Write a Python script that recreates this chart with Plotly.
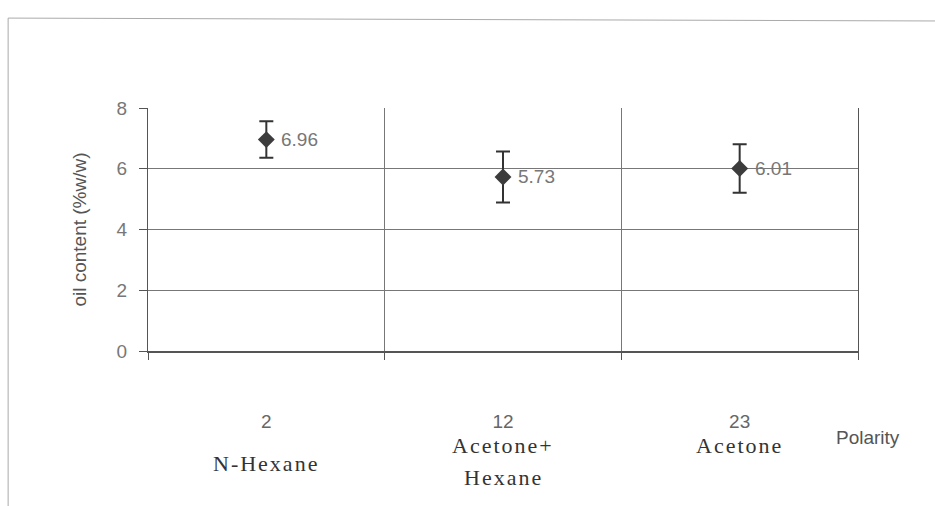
import plotly.graph_objects as go

polarity = ["2", "12", "23"]
solvents = ["N-Hexane", "Acetone+<br>Hexane", "Acetone"]
oil_content = [6.96, 5.73, 6.01]
error = [0.60, 0.84, 0.80]
value_labels = ["6.96", "5.73", "6.01"]

xpos = list(range(len(polarity)))

SANS = "Liberation Sans, Arial"
SERIF = "Liberation Serif, Times New Roman"

fig = go.Figure()
fig.add_trace(go.Scatter(
    x=xpos, y=oil_content, mode="markers",
    marker=dict(symbol="diamond", size=13, color="#3c3c3c"),
    error_y=dict(type="data", array=error, visible=True, color="#333333", thickness=2, width=7),
    showlegend=False, cliponaxis=False,
))
for i, lab in enumerate(value_labels):
    fig.add_annotation(x=xpos[i], y=oil_content[i], xref="x", yref="y", text=lab,
                       showarrow=False, xanchor="left", xshift=13,
                       font=dict(family=SANS, size=19, color="#777777"))

# solvent names under the polarity values (one annotation per text line)
name_y = {0: [-0.461], 1: [-0.387, -0.522], 2: [-0.387]}
for i, name in enumerate(solvents):
    for line, yy in zip(name.split("<br>"), name_y[i]):
        fig.add_annotation(x=xpos[i], y=yy, xref="x", yref="paper",
                           text='<span style="letter-spacing:2px">' + line + "</span>",
                           showarrow=False, yanchor="middle",
                           font=dict(family=SERIF, size=22, color="#333333"))

fig.add_annotation(x=1.014, y=-0.358, xref="paper", yref="paper", text="Polarity",
                   showarrow=False, xanchor="center", yanchor="middle",
                   font=dict(family=SANS, size=19, color="#555555"))

# outer frame lines of the pasted chart
fig.add_shape(type="line", xref="paper", yref="paper", x0=-0.197, x1=1.12, y0=1.370, y1=1.358,
              line=dict(color="#aaaaaa", width=1))
fig.add_shape(type="line", xref="paper", yref="paper", x0=-0.197, x1=-0.197, y0=1.370, y1=-0.64,
              line=dict(color="#aaaaaa", width=1))

fig.update_layout(
    width=935, height=506,
    margin=dict(l=148, r=77, t=108, b=155),
    plot_bgcolor="white", paper_bgcolor="white",
    xaxis=dict(
        range=[-0.5, 2.5], tickmode="array", tickvals=xpos, ticktext=polarity,
        showgrid=False, zeroline=False, ticks="",
        ticklabelstandoff=52,
        tickfont=dict(family=SANS, size=19, color="#666666"),
        showline=True, linecolor="#555555", linewidth=1.5, mirror=False,
        minor=dict(tickmode="array", tickvals=[-0.5, 0.5, 1.5, 2.5], showgrid=True,
                   gridcolor="#777777", gridwidth=1, ticks="outside", ticklen=7,
                   tickcolor="#555555"),
    ),
    yaxis=dict(
        range=[0, 8], tickvals=[0, 2, 4, 6, 8], showgrid=True, gridcolor="#777777",
        gridwidth=1, zeroline=False, ticks="outside", ticklen=8, tickcolor="#555555",
        ticklabelstandoff=8,
        showline=True, linecolor="#555555", linewidth=1, mirror=True,
        tickfont=dict(family=SANS, size=19, color="#777777"),
        title=dict(text="oil content (%w/w)", standoff=24,
                   font=dict(family=SANS, size=19, color="#555555")),
    ),
)

fig.write_html("out.html")
